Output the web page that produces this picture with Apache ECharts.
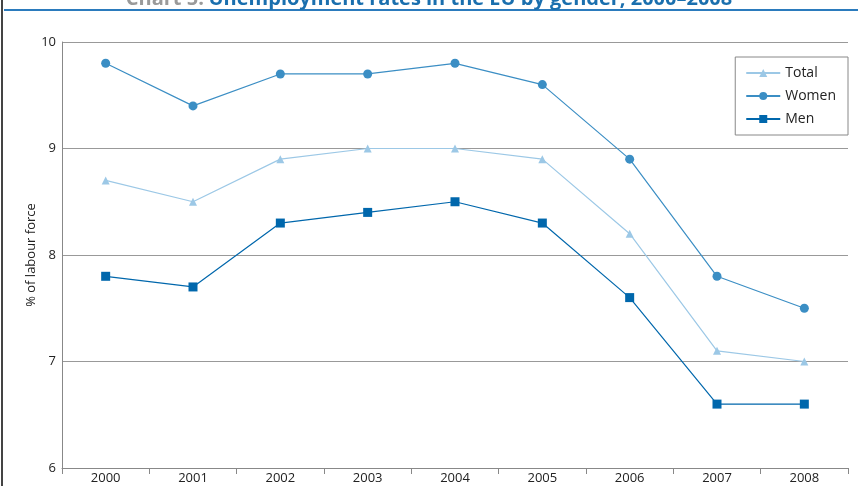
<!DOCTYPE html>
<html><head><meta charset="utf-8">
<script src="https://cdn.jsdelivr.net/npm/echarts@6/dist/echarts.min.js"></script>
<style>html,body{margin:0;padding:0;background:#fff}#c{width:858px;height:486px}</style>
</head><body><div id="c"></div>
<script>
const years = ['2000','2001','2002','2003','2004','2005','2006','2007','2008'];
const total = [8.7, 8.5, 8.9, 9.0, 9.0, 8.9, 8.2, 7.1, 7.0];
const women = [9.8, 9.4, 9.7, 9.7, 9.8, 9.6, 8.9, 7.8, 7.5];
const men   = [7.8, 7.7, 8.3, 8.4, 8.5, 8.3, 7.6, 6.6, 6.6];
const yTicks = [6, 7, 8, 9, 10];
const yName = '% of labour force';

const font = '"Open Sans", "Noto Sans", sans-serif';
const chart = echarts.init(document.getElementById('c'), null, {renderer: 'canvas'});
chart.setOption({
  animation: false,
  textStyle: {fontFamily: font},
  title: {
    text: '{g|Chart 5:} {b|Unemployment rates in the EU by gender, 2000–2008}',
    left: 'center', top: -16,
    textStyle: {rich: {
      g: {color: '#9a9a9a', fontSize: 20, fontWeight: 'bold', fontFamily: font},
      b: {color: '#1a6fae', fontSize: 20, fontWeight: 'bold', fontFamily: font}
    }}
  },
  graphic: [
    {type: 'rect', shape: {x: 4, y: 9, width: 854, height: 2}, style: {fill: '#2b7bbd'}, silent: true},
    {type: 'rect', shape: {x: 1, y: 0, width: 2, height: 486}, style: {fill: '#444'}, silent: true},
    {type: 'text', x: 31, y: 255, rotation: Math.PI / 2, silent: true,
     style: {text: yName, fill: '#222', fontSize: 13, fontFamily: font, align: 'center', verticalAlign: 'middle'}}
  ],
  grid: {left: 62, right: 10, top: 42, bottom: 18, containLabel: false},
  legend: {
    orient: 'vertical', right: 10, top: 57,
    itemWidth: 34, itemHeight: 10, itemGap: 9,
    padding: [9, 12, 9, 10],
    borderColor: '#888', borderWidth: 1,
    textStyle: {fontSize: 14, color: '#222', fontFamily: font},
    data: ['Total', 'Women', 'Men']
  },
  xAxis: {
    type: 'category', data: years, boundaryGap: true,
    axisLine: {lineStyle: {color: '#888', width: 1}},
    axisTick: {show: true, length: 6, inside: false, lineStyle: {color: '#888'}},
    axisLabel: {color: '#222', fontSize: 13, margin: 4, fontFamily: font}
  },
  yAxis: {
    type: 'value', min: 6, max: 10, interval: 1,
    axisLine: {show: true, lineStyle: {color: '#888', width: 1}},
    axisTick: {show: false},
    axisLabel: {color: '#222', fontSize: 13, margin: 6, fontFamily: font,
      formatter: v => yTicks.includes(v) ? String(v) : ''},
    splitLine: {lineStyle: {color: '#999', width: 1}}
  },
  series: [
    {name: 'Total', type: 'line', data: total, symbol: 'triangle', symbolSize: 8,
     itemStyle: {color: '#9cc8e6'}, lineStyle: {color: '#9cc8e6', width: 1.2}},
    {name: 'Women', type: 'line', data: women, symbol: 'circle', symbolSize: 9,
     itemStyle: {color: '#3b8ec4'}, lineStyle: {color: '#3b8ec4', width: 1.2}},
    {name: 'Men', type: 'line', data: men, symbol: 'rect', symbolSize: 9,
     itemStyle: {color: '#0067ac'}, lineStyle: {color: '#0067ac', width: 1.2}}
  ]
});
</script></body></html>
